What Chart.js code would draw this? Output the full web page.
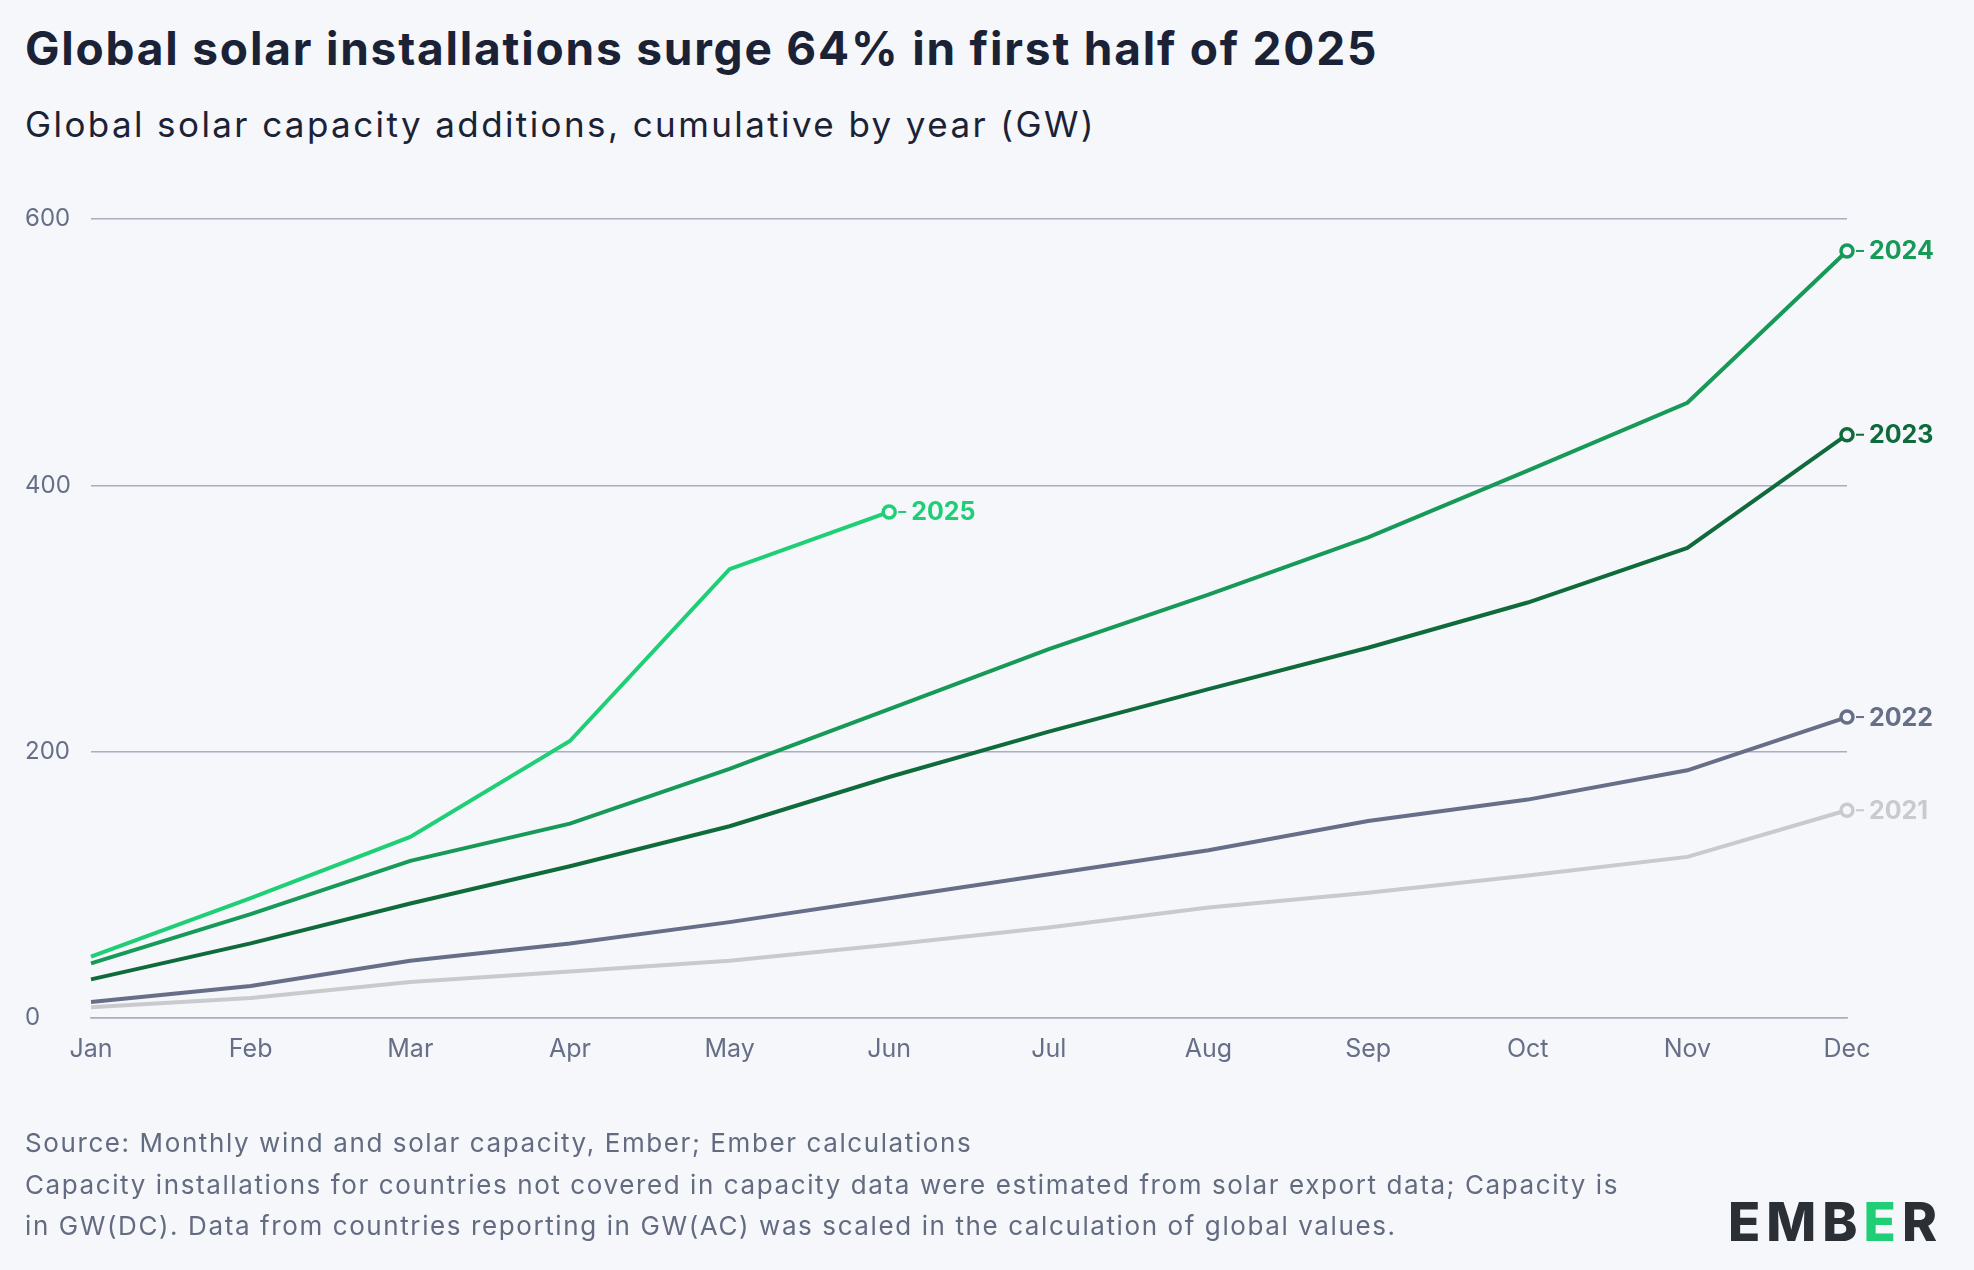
<!DOCTYPE html>
<html>
<head>
<meta charset="utf-8">
<script src="https://cdn.jsdelivr.net/npm/chart.js@4"></script>
<style>
  html, body { margin: 0; padding: 0; background: #f5f7fa; }
  body { width: 1974px; height: 1270px; position: relative; overflow: hidden; font-family: Inter, "Noto Sans", sans-serif; color: #1b2236; }
  #title { position: absolute; left: 25px; top: 20px; font-size: 46px; font-weight: 700; letter-spacing: 1.8px; }
  #subtitle { position: absolute; left: 25px; top: 103px; font-size: 35px; font-weight: 400; letter-spacing: 2.4px; }
  .foot { position: absolute; left: 25px; font-size: 26px; color: #636b80; letter-spacing: 1.6px; }
  #logo { position: absolute; left: 1728px; top: 1190px; font-size: 53px; font-weight: 800; color: #2b2f36; letter-spacing: 6px; }
  #logo span { color: #1fce75; }
  canvas { position: absolute; left: 0; top: 0; }
</style>
</head>
<body>
<div id="title">Global solar installations surge 64% in first half of 2025</div>
<div id="subtitle">Global solar capacity additions, cumulative by year (GW)</div>
<canvas id="c" width="1974" height="1270"></canvas>
<div class="foot" style="top:1127px">Source: Monthly wind and solar capacity, Ember; Ember calculations</div>
<div class="foot" style="top:1169px">Capacity installations for countries not covered in capacity data were estimated from solar export data; Capacity is</div>
<div class="foot" style="top:1210px">in GW(DC). Data from countries reporting in GW(AC) was scaled in the calculation of global values.</div>
<div id="logo">EMB<span>E</span>R</div>
<script>
const months = ['Jan','Feb','Mar','Apr','May','Jun','Jul','Aug','Sep','Oct','Nov','Dec'];
const yTicks = [0, 200, 400, 600];
const s2021 = [8, 15, 27, 35, 43, 55, 68, 83, 94, 107, 121, 156];
const s2022 = [12, 24, 43, 56, 72, 90, 108, 126, 148, 164, 186, 226];
const s2023 = [29, 56, 86, 114, 144, 181, 215, 247, 278, 312, 353, 438];
const s2024 = [41, 78, 118, 146, 187, 232, 277, 318, 361, 411, 462, 576];
const s2025 = [46, 90, 136, 208, 337, 380];

const series = [
  { label: '2021', data: s2021, color: '#c9cacd' },
  { label: '2022', data: s2022, color: '#666f87' },
  { label: '2023', data: s2023, color: '#0f6b3c' },
  { label: '2024', data: s2024, color: '#179a58' },
  { label: '2025', data: s2025, color: '#1fcf76' }
];

const endLabels = {
  id: 'endLabels',
  afterDatasetsDraw(chart) {
    const ctx = chart.ctx;
    chart.data.datasets.forEach((ds, i) => {
      const meta = chart.getDatasetMeta(i);
      const pt = meta.data[meta.data.length - 1];
      ctx.save();
      ctx.strokeStyle = ds.borderColor;
      ctx.lineWidth = 2;
      ctx.beginPath();
      ctx.moveTo(pt.x + 9, pt.y);
      ctx.lineTo(pt.x + 17, pt.y);
      ctx.stroke();
      ctx.fillStyle = ds.borderColor;
      ctx.font = '700 25px Inter, "Noto Sans", sans-serif';
      ctx.textBaseline = 'middle';
      ctx.fillText(ds.label, pt.x + 22, pt.y + 1);
      ctx.restore();
    });
  }
};

new Chart(document.getElementById('c'), {
  type: 'line',
  data: {
    labels: months,
    datasets: series.map(s => ({
      label: s.label,
      data: s.data,
      borderColor: s.color,
      borderWidth: 4,
      tension: 0,
      pointRadius: s.data.map((v, i) => i === s.data.length - 1 ? 6 : 0),
      pointBorderWidth: 3.5,
      pointBackgroundColor: '#f5f7fa',
      pointBorderColor: s.color
    }))
  },
  options: {
    responsive: false,
    animation: false,
    layout: { padding: { left: 25, top: 219, right: 127, bottom: 0 } },
    plugins: { legend: { display: false }, tooltip: { enabled: false } },
    scales: {
      x: {
        offset: false,
        grid: { display: false },
        border: { color: '#a9aec0', width: 1.5 },
        ticks: { color: '#666f87', font: { size: 25, family: 'Inter, "Noto Sans", sans-serif' }, padding: 8, maxRotation: 0 },
        afterFit(scale) { scale.height = 252; }
      },
      y: {
        min: 0, max: 600,
        afterBuildTicks(scale) { scale.ticks = yTicks.map(v => ({ value: v })); },
        grid: { color: '#a9aec0', lineWidth: 1.5, drawTicks: false },
        border: { display: false },
        ticks: { color: '#666f87', font: { size: 24, family: 'Inter, "Noto Sans", sans-serif' }, crossAlign: 'far', padding: 10 },
        afterFit(scale) { scale.width = 66; }
      }
    }
  },
  plugins: [endLabels]
});
</script>
</body>
</html>
